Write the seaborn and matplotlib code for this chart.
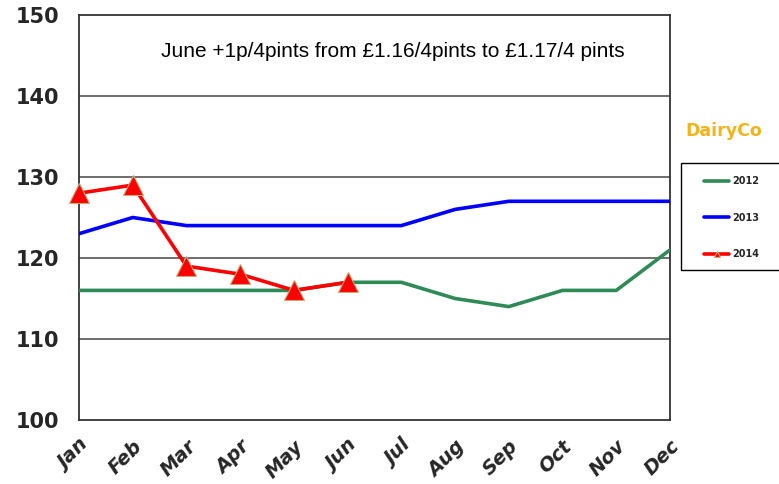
import matplotlib
matplotlib.use("Agg")
import matplotlib.pyplot as plt
from matplotlib.patches import Rectangle
import pandas as pd
import seaborn as sns

months = ["Jan", "Feb", "Mar", "Apr", "May", "Jun",
          "Jul", "Aug", "Sep", "Oct", "Nov", "Dec"]
y2012 = [116, 116, 116, 116, 116, 117, 117, 115, 114, 116, 116, 121]
y2013 = [123, 125, 124, 124, 124, 124, 124, 126, 127, 127, 127, 127]
y2014 = [128, 129, 119, 118, 116, 117]
y_ticks = [100, 110, 120, 130, 140, 150]

sns.set_style("white")
fig = plt.figure(figsize=(7.79, 4.84), dpi=100)
ax = fig.add_axes([79 / 779, 1 - 420 / 484, (670 - 79) / 779, (420 - 15) / 484])

x = list(range(len(months)))
df12 = pd.DataFrame({"m": x, "v": y2012})
df13 = pd.DataFrame({"m": x, "v": y2013})
df14 = pd.DataFrame({"m": x[:len(y2014)], "v": y2014})

# gridlines first so lines sit on top
for t in y_ticks[1:-1]:
    ax.axhline(t, color="#555555", lw=1.2, zorder=1)

sns.lineplot(data=df12, x="m", y="v", ax=ax, color="#2e8b57", lw=2.6,
             label="2012", zorder=3)
sns.lineplot(data=df13, x="m", y="v", ax=ax, color="#0000ff", lw=2.6,
             label="2013", zorder=3)
sns.lineplot(data=df14, x="m", y="v", ax=ax, color="#ff0000", lw=2.6,
             marker="^", markersize=15, markerfacecolor="#ff0000",
             markeredgecolor="#c8a878", markeredgewidth=0.8,
             label="2014", zorder=4, clip_on=False)

ax.set_xlim(0, 11)
ax.set_ylim(100, 150)
ax.set_yticks(y_ticks)
ax.set_yticklabels([str(t) for t in y_ticks], fontsize=15, fontweight="bold")
ax.set_xticks(x)
ax.set_xticklabels(months, rotation=45, ha="right", rotation_mode="anchor",
                   fontsize=14, fontweight="bold", style="italic")
ax.set_xlabel("")
ax.set_ylabel("")
ax.tick_params(axis="x", direction="out", length=6, width=1, color="#444444", pad=6)
ax.tick_params(axis="y", direction="out", length=4, width=1, color="#444444", pad=10)
for s in ["left", "bottom", "top", "right"]:
    ax.spines[s].set_color("#333333")
    ax.spines[s].set_linewidth(1.3)

ax.text(0.531, 0.91, "June +1p/4pints from \u00a31.16/4pints to \u00a31.17/4 pints",
        transform=ax.transAxes, ha="center", va="center", fontsize=15,
        family="Liberation Sans", color="black")

fig.text(685 / 779, 1 - 131 / 484, "DairyCo", color="#f5b31a", fontsize=12.5,
         fontweight="bold", ha="left", va="center")

# legend box runs off the right edge like the original
fig.patches.append(Rectangle((681 / 779, 1 - 270 / 484), 0.2, 107 / 484,
                             transform=fig.transFigure, fill=False,
                             edgecolor="black", lw=1.0))
leg = ax.legend(loc="upper left", bbox_to_anchor=(704 / 779, 1 - 176 / 484),
                bbox_transform=fig.transFigure,
                prop={"weight": "bold", "size": 7}, frameon=False,
                handlelength=2.6, handletextpad=0.3, labelspacing=2.75,
                borderpad=0, borderaxespad=0, markerscale=0.3)

fig.savefig("out.png", dpi=100)
